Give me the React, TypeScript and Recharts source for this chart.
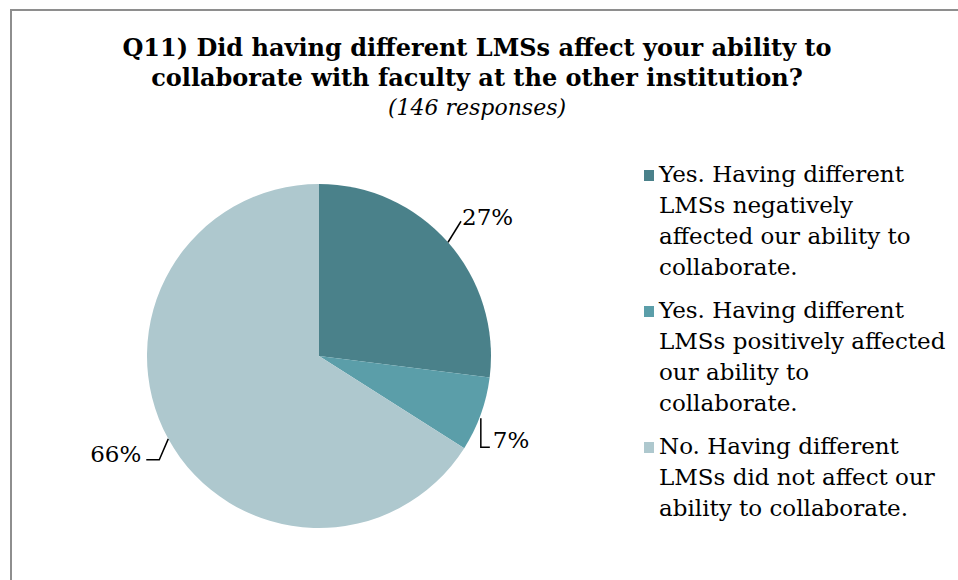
import { PieChart, Pie, Cell, Legend } from "recharts";

const answers = [
  "Yes. Having different LMSs negatively affected our ability to collaborate.",
  "Yes. Having different LMSs positively affected our ability to collaborate.",
  "No. Having different LMSs did not affect our ability to collaborate.",
];
const legendLines = [
  ["Yes. Having different", "LMSs negatively", "affected our ability to", "collaborate."],
  ["Yes. Having different", "LMSs positively affected", "our ability to", "collaborate."],
  ["No. Having different", "LMSs did not affect our", "ability to collaborate."],
];
const shares = [27, 7, 66];
const colors = ["#4a818a", "#5b9ea9", "#aec8ce"];

const data = answers.map((name, i) => ({ name, value: shares[i] }));

const FONT = "'DejaVu Serif', Georgia, serif";
const RAD = Math.PI / 180;

function renderLabel(props: any) {
  const { cx, cy, midAngle, outerRadius, value, index } = props;
  const cos = Math.cos(-midAngle * RAD);
  const sin = Math.sin(-midAngle * RAD);
  const x0 = cx + outerRadius * cos;
  const y0 = cy + outerRadius * sin;
  let path = "";
  let tx = 0;
  let ty = 0;
  let anchor: "start" | "end" = "start";
  if (index === 0) {
    const x1 = x0 + 13;
    const y1 = y0 - 21;
    path = `M${x0},${y0}L${x1},${y1}`;
    tx = x1 + 1;
    ty = y1 + 4;
  } else if (index === 1) {
    const y1 = y0 + 33;
    path = `M${x0},${y0 + 4}L${x0},${y1}L${x0 + 9},${y1}`;
    tx = x0 + 12;
    ty = y1 + 1;
  } else {
    const x1 = x0 - 9;
    const y1 = y0 + 21;
    path = `M${x0},${y0}L${x1},${y1}L${x1 - 13},${y1}`;
    tx = x1 - 18;
    ty = y1 + 2;
    anchor = "end";
  }
  return (
    <g>
      <path d={path} stroke="#000" strokeWidth={1.5} fill="none" />
      <text x={tx} y={ty} textAnchor={anchor} fontFamily={FONT} fontSize={23} fill="#000">
        {`${value}%`}
      </text>
    </g>
  );
}

function renderLegend() {
  return (
    <div style={{ fontFamily: FONT, fontSize: 23, lineHeight: "31px", color: "#000" }}>
      {legendLines.map((lines, i) => (
        <div key={i} style={{ display: "flex", alignItems: "flex-start", marginBottom: 12 }}>
          <div
            style={{ width: 10, height: 11, background: colors[i], marginTop: 11, marginRight: 5, flexShrink: 0 }}
          />
          <div>
            {lines.map((l, j) => (
              <div key={j} style={{ whiteSpace: "nowrap" }}>{l}</div>
            ))}
          </div>
        </div>
      ))}
    </div>
  );
}

export default function App() {
  return (
    <div style={{ position: "absolute", left: 0, top: 0, width: 958, height: 580, background: "#fff", overflow: "hidden" }}>
      <div
        style={{
          position: "absolute",
          left: 10,
          top: 9,
          width: 960,
          height: 600,
          borderTop: "2px solid #8e8e8e",
          borderLeft: "2px solid #8e8e8e",
        }}
      />
      <div
        style={{
          position: "absolute",
          left: 0,
          top: 33,
          width: 954,
          textAlign: "center",
          fontFamily: FONT,
          color: "#000",
        }}
      >
        <div style={{ fontWeight: "bold", fontSize: 24, lineHeight: "30px" }}>
          Q11) Did having different LMSs affect your ability to
          <br />
          collaborate with faculty at the other institution?
        </div>
        <div style={{ fontStyle: "italic", fontSize: 22, lineHeight: "30px" }}>(146 responses)</div>
      </div>
      <PieChart width={958} height={580} margin={{ top: 0, right: 0, bottom: 0, left: 0 }}>
        <Pie
          data={data}
          dataKey="value"
          nameKey="name"
          cx={319}
          cy={356}
          outerRadius={172}
          startAngle={90}
          endAngle={-270}
          stroke="none"
          label={renderLabel}
          labelLine={false}
          isAnimationActive={false}
        >
          {data.map((d, i) => (
            <Cell key={d.name} fill={colors[i]} />
          ))}
        </Pie>
        <Legend
          layout="vertical"
          align="right"
          verticalAlign="top"
          content={renderLegend}
          wrapperStyle={{ left: 644, top: 159, width: 310 }}
        />
      </PieChart>
    </div>
  );
}
